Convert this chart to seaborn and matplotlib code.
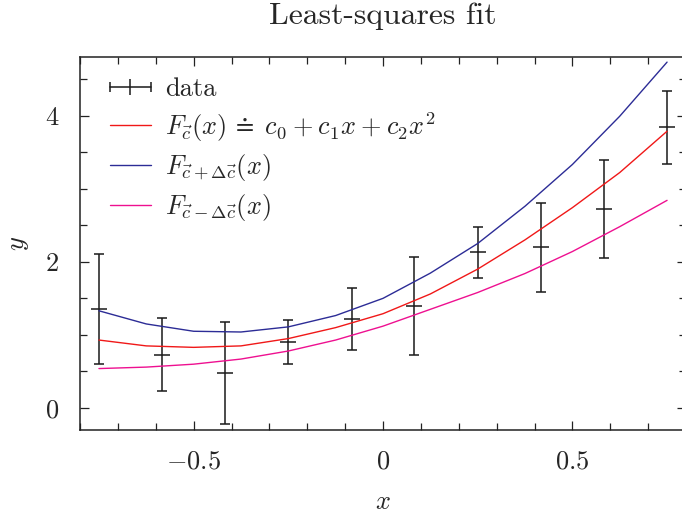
import pandas as pd
import matplotlib.pyplot as plt
import seaborn as sns
from matplotlib.lines import Line2D
from matplotlib.legend_handler import HandlerLine2D, HandlerTuple
from matplotlib.ticker import MultipleLocator, FuncFormatter

# Datos medidos (con barras de error)
x_data = [-0.75, -0.583, -0.417, -0.25, -0.083, 0.083, 0.25, 0.417, 0.583, 0.75]
y_data = [1.35, 0.73, 0.48, 0.90, 1.22, 1.39, 2.13, 2.20, 2.72, 3.84]
y_err = [0.75, 0.50, 0.70, 0.30, 0.42, 0.67, 0.35, 0.61, 0.67, 0.50]

# Curvas del ajuste
x_fit = [-0.75, -0.625, -0.5, -0.375, -0.25, -0.125, 0.0, 0.125, 0.25, 0.375, 0.5, 0.625, 0.75]
y_fit = [0.93, 0.85, 0.83, 0.85, 0.95, 1.10, 1.29, 1.56, 1.90, 2.30, 2.74, 3.22, 3.785]
y_plus = [1.33, 1.15, 1.05, 1.04, 1.11, 1.265, 1.50, 1.845, 2.25, 2.76, 3.33, 3.99, 4.73]
y_minus = [0.54, 0.56, 0.60, 0.67, 0.78, 0.93, 1.12, 1.35, 1.58, 1.84, 2.14, 2.48, 2.84]

etiquetas = ['data',
             r'$F_{\vec{c}}(x)\,\doteq\;c_0\:+\:c_1 x\:+\:c_2 x^2$',
             r'$F_{\vec{c}+\Delta\vec{c}}(x)$',
             r'$F_{\vec{c}-\Delta\vec{c}}(x)$']
colores = {'fit': '#f01818', 'plus': '#2c2c96', 'minus': '#ee1090'}

sns.set_style('ticks')
plt.rcParams['font.family'] = ['cmr10']
plt.rcParams['mathtext.fontset'] = 'cm'
plt.rcParams['axes.formatter.use_mathtext'] = True
plt.rcParams['font.size'] = 19

fig = plt.figure(figsize=(6.82, 5.15), dpi=100)
ax = fig.add_axes([80 / 682, 1 - 430 / 515, 606 / 682, 373 / 515])

# Datos con barras de error
ax.errorbar(x_data, y_data, yerr=y_err, fmt='none', ecolor='#1a1a1a',
            elinewidth=1.1, capsize=3.5, capthick=1.1)
ax.plot(x_data, y_data, ls='none', marker='_', ms=12, mew=1.1, color='#1a1a1a')

# Curvas
curvas = pd.DataFrame({
    'x': x_fit * 3,
    'y': y_fit + y_plus + y_minus,
    'curva': ['fit'] * 13 + ['plus'] * 13 + ['minus'] * 13,
})
sns.lineplot(data=curvas, x='x', y='y', hue='curva', palette=colores,
             linewidth=1, legend=False, sort=False, ax=ax)

ax.set_xlim(-0.8, 0.8)
ax.set_ylim(-0.3, 4.8)
ax.xaxis.set_major_locator(MultipleLocator(0.5))
ax.xaxis.set_minor_locator(MultipleLocator(0.1))
ax.yaxis.set_major_locator(MultipleLocator(2))
ax.yaxis.set_minor_locator(MultipleLocator(0.5))
ax.xaxis.set_major_formatter(FuncFormatter(lambda v, p: f'${v:g}$'))
ax.yaxis.set_major_formatter(FuncFormatter(lambda v, p: f'${v:g}$'))
ax.tick_params(which='both', direction='in', top=True, right=True,
               width=0.9, color='#222222')
ax.tick_params(which='major', length=6.5, pad=14)
ax.tick_params(axis='y', which='major', pad=15)
ax.tick_params(which='minor', length=4.7)
for s in ax.spines.values():
    s.set_linewidth(1.1)
    s.set_color('#222222')

ax.set_title('Least-squares fit', pad=24)
ax.set_xlabel('$x$', labelpad=12)
ax.set_ylabel('$y$', labelpad=10)

# Leyenda
h_barra = Line2D([], [], color='#1a1a1a', lw=1.1, marker='|', ms=7, mew=1.1)
h_centro = Line2D([], [], color='#1a1a1a', ls='none', marker='|', ms=12, mew=1.1)
handles = [(h_barra, h_centro),
           Line2D([], [], color=colores['fit'], lw=1),
           Line2D([], [], color=colores['plus'], lw=1),
           Line2D([], [], color=colores['minus'], lw=1)]
ax.legend(handles, etiquetas, loc='upper left', bbox_to_anchor=(30 / 606, 0.945),
          frameon=False, borderpad=0, borderaxespad=0, handlelength=1.55,
          handletextpad=0.55, labelspacing=0.33,
          handler_map={h_barra: HandlerLine2D(numpoints=2, marker_pad=0),
                       h_centro: HandlerLine2D(numpoints=1),
                       tuple: HandlerTuple(ndivide=1)})

plt.savefig('out.png', dpi=100)
